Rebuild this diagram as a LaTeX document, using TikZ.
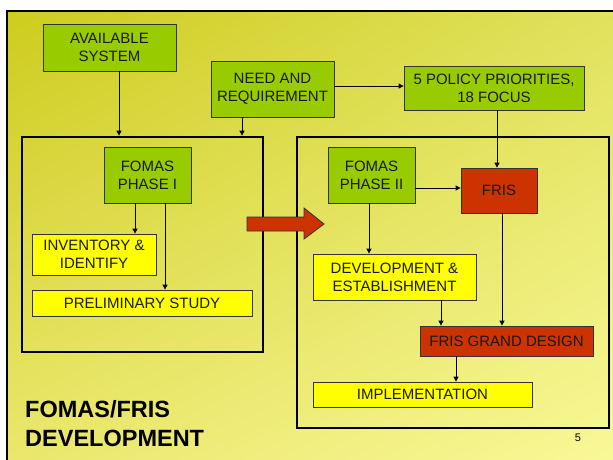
\documentclass[tikz,border=0pt]{standalone}
\usepackage{fontspec}
\setmainfont{Liberation Sans}
\usetikzlibrary{arrows.meta,shadings}
\definecolor{boxgreen}{RGB}{153,204,0}
\definecolor{boxyellow}{RGB}{255,255,0}
\definecolor{boxred}{RGB}{204,51,0}
\definecolor{bgtl}{RGB}{205,204,30}
\definecolor{bgtr}{RGB}{226,226,96}
\definecolor{bgbl}{RGB}{236,232,112}
\definecolor{bgbr}{RGB}{250,250,155}
\tikzset{my box/.style={draw=black!80, line width=0.8pt, inner sep=0pt, align=center, text=black!90, font=\fontsize{15}{18}\selectfont},
my green/.style={my box, fill=boxgreen},
my yellow/.style={my box, fill=boxyellow},
my red/.style={my box, fill=boxred},
my frame/.style={draw=black, line width=2.7pt, inner sep=0pt},
my link/.style={-{Triangle[length=5pt,width=5pt]}, line width=1pt, draw=black},}

\begin{document}
\begin{tikzpicture}[x=1pt, y=-1pt]
\clip (0,0) rectangle (613,459);
\fill[white] (0,0) rectangle (613,459);
\shade[upper left=bgtl, upper right=bgtr, lower left=bgbl, lower right=bgbr] (7,11) rectangle (640,480);
\draw[line width=2pt] (7,480) -- (7,11) -- (640,11);
% top row
\node [my green, minimum width=133, minimum height=47] (avail)  at (109.5, 47.5) {AVAILABLE\\SYSTEM};
\node [my green, minimum width=123, minimum height=56] (need)   at (272.5, 89.0) {NEED AND\\REQUIREMENT};
\node [my green, minimum width=180, minimum height=44] (policy) at (494.0, 88.0) {5 POLICY PRIORITIES,\\18 FOCUS};
% the two phases
\node [my frame, minimum width=241, minimum height=215] (phaseone) at (142.5, 244.5) {};
\node [my frame, minimum width=312, minimum height=291] (phasetwo) at (453.0, 282.5) {};
% phase I
\node [my green,  minimum width=87,  minimum height=56] (fomasI)  at (147.5, 175.0) {FOMAS\\PHASE I};
\node [my yellow, minimum width=124, minimum height=41] (invent)  at ( 94.0, 254.5) {INVENTORY \&\\IDENTIFY};
\node [my yellow, minimum width=220, minimum height=26] (prelim)  at (142.0, 303.0) {PRELIMINARY STUDY};
% phase II
\node [my green,  minimum width=87,  minimum height=56] (fomasII) at (371.5, 175.0) {FOMAS\\PHASE II};
\node [my red,    minimum width=76,  minimum height=45] (fris)    at (499.0, 190.5) {FRIS};
\node [my yellow, minimum width=163, minimum height=46] (devel)   at (394.5, 277.0) {DEVELOPMENT \&\\ESTABLISHMENT};
\node [my red,    minimum width=173, minimum height=30] (grand)   at (506.5, 341.0) {FRIS GRAND DESIGN};
\node [my yellow, minimum width=219, minimum height=25] (impl)    at (422.5, 394.5) {IMPLEMENTATION};
% links
\draw [my link] (119,0 |- avail.south) -- (119,0 |- phaseone.north);
\draw [my link] (242,0 |- need.south) -- (242,0 |- phaseone.north);
\draw [my link] (need.east |- 0,86) -- (policy.west |- 0,86);
\draw [my link] (497,0 |- policy.south) -- (497,0 |- fris.north);
\draw [my link] (135,0 |- fomasI.south) -- (135,0 |- invent.north);
\draw [my link] (165,0 |- fomasI.south) -- (165,0 |- prelim.north);
\draw [my link] (fomasII.east |- 0,188) -- (fris.west |- 0,188);
\draw [my link] (369,0 |- fomasII.south) -- (369,0 |- devel.north);
\draw [my link] (441,0 |- devel.south) -- (441,0 |- grand.north);
\draw [my link] (502,0 |- fris.south) -- (502,0 |- grand.north);
\draw [my link] (456,0 |- grand.south) -- (456,0 |- impl.north);
% big arrow between the phases
\draw [fill=boxred, draw=black!80, line width=0.8pt] (247,217) -- (304,217) -- (304,208) -- (324,224) -- (304,239) -- (304,231) -- (247,231) -- cycle;
% title and page number
\node [anchor=west, align=left, inner sep=0pt, font=\fontsize{23.5}{29}\selectfont\bfseries] (title) at (25,424) {FOMAS/FRIS\\DEVELOPMENT};
\node [inner sep=0pt, font=\fontsize{11}{13}\selectfont] (pagenum) at (578,438) {5};
\end{tikzpicture}
\end{document}
